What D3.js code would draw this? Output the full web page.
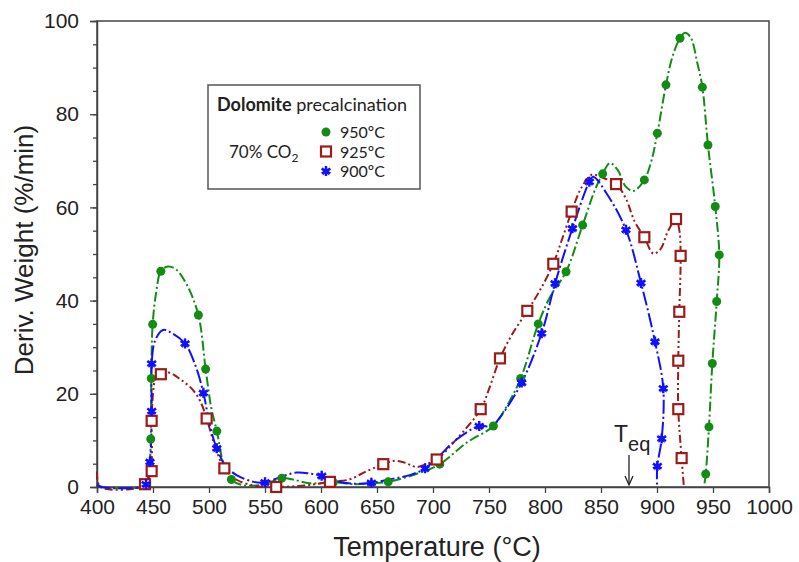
<!DOCTYPE html>
<html>
<head>
  <meta charset="UTF-8">
  <title>Dolomite precalcination DTG</title>
  <style>
    body { margin: 0; background: #fff; }
    svg text { font-family: "Liberation Sans", Arial, sans-serif; fill: #222; }
    .leg text { font-family: Lato, "Open Sans", sans-serif; }
  </style>
</head>
<body>
<svg id="chart" width="799" height="562"></svg>

<script src="https://d3js.org/d3.v7.min.js"></script>
<script>

// curves: [temperature, deriv. weight]
let curve950 = [[400,0.5],[405,0],[440,0],[444,0.5],[447,5],[448,10.3],[448.5,23.3],[449.7,34.9],[453,42],[457,46.3],[463,47.3],[470,46.8],[480,43.5],[490.5,36.9],[497,25.3],[502,17],[507,12],[513,5],[520,1.6],[530,0.4],[545,0.4],[555,1.1],[565,1.9],[575,1.6],[590,0.8],[611,1.0],[630,0.6],[645,0.8],[660,1.1],[685,2.8],[706,4.9],[730,9.5],[753.9,13.1],[765,17],[778.3,23.3],[794,35],[805,41],[818.8,46.2],[833.6,56.2],[845,64],[851.5,67.2],[858,69.5],[865,68],[872,64.5],[879,63.5],[888.7,65.9],[895,70],[900.3,75.9],[908,86.3],[914,92.5],[920.5,96.3],[925,97.5],[930,96.5],[936,91],[940.5,85.8],[945.5,73.4],[952,60.2],[955.6,49.8],[953.3,39.8],[949.4,26.5],[946.4,12.9],[943.5,2.8],[942,0]];
let marks950 = [[448,10.3],[448.5,23.3],[449.7,34.9],[457,46.3],[490.5,36.9],[497,25.3],[507,12],[520,1.6],[565,1.9],[611,1.0],[660,1.1],[706,4.9],[753.9,13.1],[778.3,23.3],[794,35],[818.8,46.2],[833.6,56.2],[851.5,67.2],[888.7,65.9],[900.3,75.9],[908,86.3],[920.5,96.3],[940.5,85.8],[945.5,73.4],[952,60.2],[955.6,49.8],[953.3,39.8],[949.4,26.5],[946.4,12.9],[943.5,2.8]];

let curve925 = [[400,3.3],[403,0],[440,0],[442.9,0.6],[448,3.4],[448.8,14.2],[450,20],[452,23],[457,24.2],[465,24.5],[475,23],[485,21],[492,18.5],[497.9,14.7],[505,9],[513.7,4.0],[525,1.5],[540,0.3],[550,0],[560,0],[580,0.2],[595,0.6],[608,1.1],[625,1.6],[640,3.3],[655.6,4.9],[665,5.6],[675,5.2],[685,4.3],[695,5],[703.3,5.9],[720,10],[742.6,16.7],[750,21],[759.8,27.6],[770,32.5],[784.2,37.8],[795,42],[807.4,47.9],[815,53],[823.8,59.1],[832,64],[841.7,67],[850,66.5],[863.4,65],[872,62],[880,57],[888.7,53.6],[896.7,50.1],[903,51],[910,55],[917,57.5],[920,55],[921.1,49.6],[919.9,37.6],[919,27.1],[919,16.7],[922,6.2],[924,0]];
let marks925 = [[442.9,0.6],[448.8,3.4],[448.8,14.2],[457,24.2],[497.9,14.7],[513.7,4.0],[560,0],[608,1.1],[655.6,4.9],[703.3,5.9],[742.6,16.7],[759.8,27.6],[784.2,37.8],[807.4,47.9],[823.8,59.1],[863.4,65],[888.7,53.6],[917,57.5],[921.1,49.6],[919.9,37.6],[919,27.1],[919,16.7],[922,6.2]];

let curve900 = [[400,0.5],[404,0],[440,0],[443.8,0.6],[447.3,5.4],[448.8,16.3],[448.8,26.5],[452,31.5],[459,33.7],[467,33],[478.6,30.8],[488,26],[495,20.2],[501,13],[506.9,8.3],[515,4.5],[525,2.5],[540,1.1],[550,1.0],[560,1.8],[578,3.1],[590,2.9],[600.6,2.4],[615,1.2],[630,0.7],[645,0.9],[665,1.8],[680,2.6],[692.9,4.0],[705,6.5],[720,10],[741.3,13.1],[752,13],[760,15],[779.2,22.4],[797,33],[809,43.7],[824.5,55.5],[839.6,65.5],[843,66.6],[855,63],[872.3,55.2],[885.7,43.8],[898.2,31.2],[905.6,21.2],[904.2,10.4],[900.3,4.5],[900,0]];
let marks900 = [[443.8,0.6],[447.3,5.4],[448.8,16.3],[448.8,26.5],[478.6,30.8],[495,20.2],[506.9,8.3],[550,1],[600.6,2.4],[645,0.9],[692.9,4.0],[741.3,13.1],[779.2,22.4],[797,33],[809,43.7],[824.5,55.5],[839.6,65.5],[872.3,55.2],[885.7,43.8],[898.2,31.2],[905.6,21.2],[904.2,10.4],[900.3,4.5]];

let xTicks = [400,450,500,550,600,650,700,750,800,850,900,950,1000];
let yTicks = [0,20,40,60,80,100];
let yMinor = d3.range(0, 101, 5);
let tEq = 875;

let series = [
  {name: "950ºC", curve: curve950, marks: marks950, color: "#148c14", dash: "10,3,2,3", sym: "circle"},
  {name: "925ºC", curve: curve925, marks: marks925, color: "#9c1a1a", dash: "8,3,2,3,2,3", sym: "square"},
  {name: "900ºC", curve: curve900, marks: marks900, color: "#1010ff", dash: "14,3,2,3", sym: "star"}
];

let svg = d3.select("#chart");
let x = d3.scaleLinear().domain([400, 1000]).range([97, 769]);
let y = d3.scaleLinear().domain([0, 100]).range([487, 21]);

// frame
svg.append("rect")
  .attr("x", 97).attr("y", 21).attr("width", 672).attr("height", 466)
  .attr("fill", "none").attr("stroke", "#444").attr("stroke-width", 1.5);

// axes
let xAxis = svg.append("g").attr("transform", "translate(0,487)")
  .call(d3.axisBottom(x).tickValues(xTicks).tickSize(6).tickPadding(6).tickFormat(d3.format("d")));
let yAxis = svg.append("g").attr("transform", "translate(97,0)")
  .call(d3.axisLeft(y).tickValues(yTicks).tickSize(7).tickPadding(11));
svg.append("g").attr("transform", "translate(97,0)")
  .call(d3.axisLeft(y).tickValues(yMinor).tickSize(4).tickFormat(""))
  .select(".domain").remove();
svg.selectAll(".domain").attr("stroke", "#444").attr("stroke-width", 1.5);
svg.selectAll(".tick line").attr("stroke", "#444").attr("stroke-width", 1.3);
xAxis.selectAll("text").attr("font-size", 21).attr("font-family", "Liberation Sans, Arial").attr("fill", "#222");
yAxis.selectAll("text").attr("font-size", 21).attr("font-family", "Liberation Sans, Arial").attr("fill", "#222");

svg.append("text")
  .attr("x", 437).attr("y", 556).attr("text-anchor", "middle")
  .attr("font-size", 27).text("Temperature (°C)");
svg.append("text")
  .attr("transform", "translate(33,250) rotate(-90)").attr("text-anchor", "middle")
  .attr("font-size", 26).text("Deriv. Weight (%/min)");

// curves
let line = d3.line().x(d => x(d[0])).y(d => y(d[1])).curve(d3.curveCatmullRom.alpha(0.5));
series.forEach(s => {
  svg.append("path")
    .attr("d", line(s.curve))
    .attr("fill", "none").attr("stroke", s.color)
    .attr("stroke-width", 2).attr("stroke-dasharray", s.dash);
});

function drawMarker(g, s, cx, cy) {
  if (s.sym == "circle") {
    g.append("circle").attr("cx", cx).attr("cy", cy).attr("r", 4.5).attr("fill", s.color);
  } else if (s.sym == "square") {
    g.append("rect").attr("x", cx - 5).attr("y", cy - 5).attr("width", 10).attr("height", 10)
      .attr("fill", "#fff").attr("stroke", s.color).attr("stroke-width", 2.2);
  } else {
    g.append("path").attr("transform", "translate(" + cx + "," + cy + ")")
      .attr("d", d3.symbol(d3.symbolAsterisk, 70)()).attr("stroke", s.color).attr("stroke-width", 2.4);
    g.append("path").attr("transform", "translate(" + cx + "," + cy + ")")
      .attr("d", d3.symbol(d3.symbolStar, 34)()).attr("fill", s.color);
  }
}

series.forEach(s => {
  let g = svg.append("g");
  s.marks.forEach(d => drawMarker(g, s, x(d[0]), y(d[1])));
});

// T_eq arrow
let teq = svg.append("g");
teq.append("line").attr("x1", x(tEq)).attr("x2", x(tEq)).attr("y1", 455).attr("y2", 484)
  .attr("stroke", "#222").attr("stroke-width", 1.3);
teq.append("path").attr("d", "M" + (x(tEq) - 4) + ",476 L" + x(tEq) + ",485 L" + (x(tEq) + 4) + ",476")
  .attr("fill", "none").attr("stroke", "#222").attr("stroke-width", 1.3);
let tt = teq.append("text").attr("x", 614).attr("y", 442).attr("font-size", 23);
tt.append("tspan").text("T");
tt.append("tspan").attr("dy", 9).attr("font-size", 20).text("eq");

// legend
let leg = svg.append("g").attr("class", "leg");
leg.append("rect").attr("x", 208).attr("y", 85).attr("width", 212).attr("height", 104)
  .attr("fill", "#fff").attr("stroke", "#555").attr("stroke-width", 1.5);
let ttl = leg.append("text").attr("x", 217).attr("y", 111).attr("font-size", 18);
ttl.append("tspan").attr("font-weight", "bold").text("Dolomite");
ttl.append("tspan").text(" precalcination");
let co = leg.append("text").attr("x", 229).attr("y", 158).attr("font-size", 17).text("70% CO");
co.append("tspan").attr("font-size", 12).attr("dy", 4).text("2");
series.forEach((s, i) => {
  let cy = 132 + i * 19.5;
  drawMarker(leg, s, 326, cy);
  leg.append("text").attr("x", 340).attr("y", cy + 6).attr("font-size", 16).text(s.name);
});

</script>
</body>
</html>
